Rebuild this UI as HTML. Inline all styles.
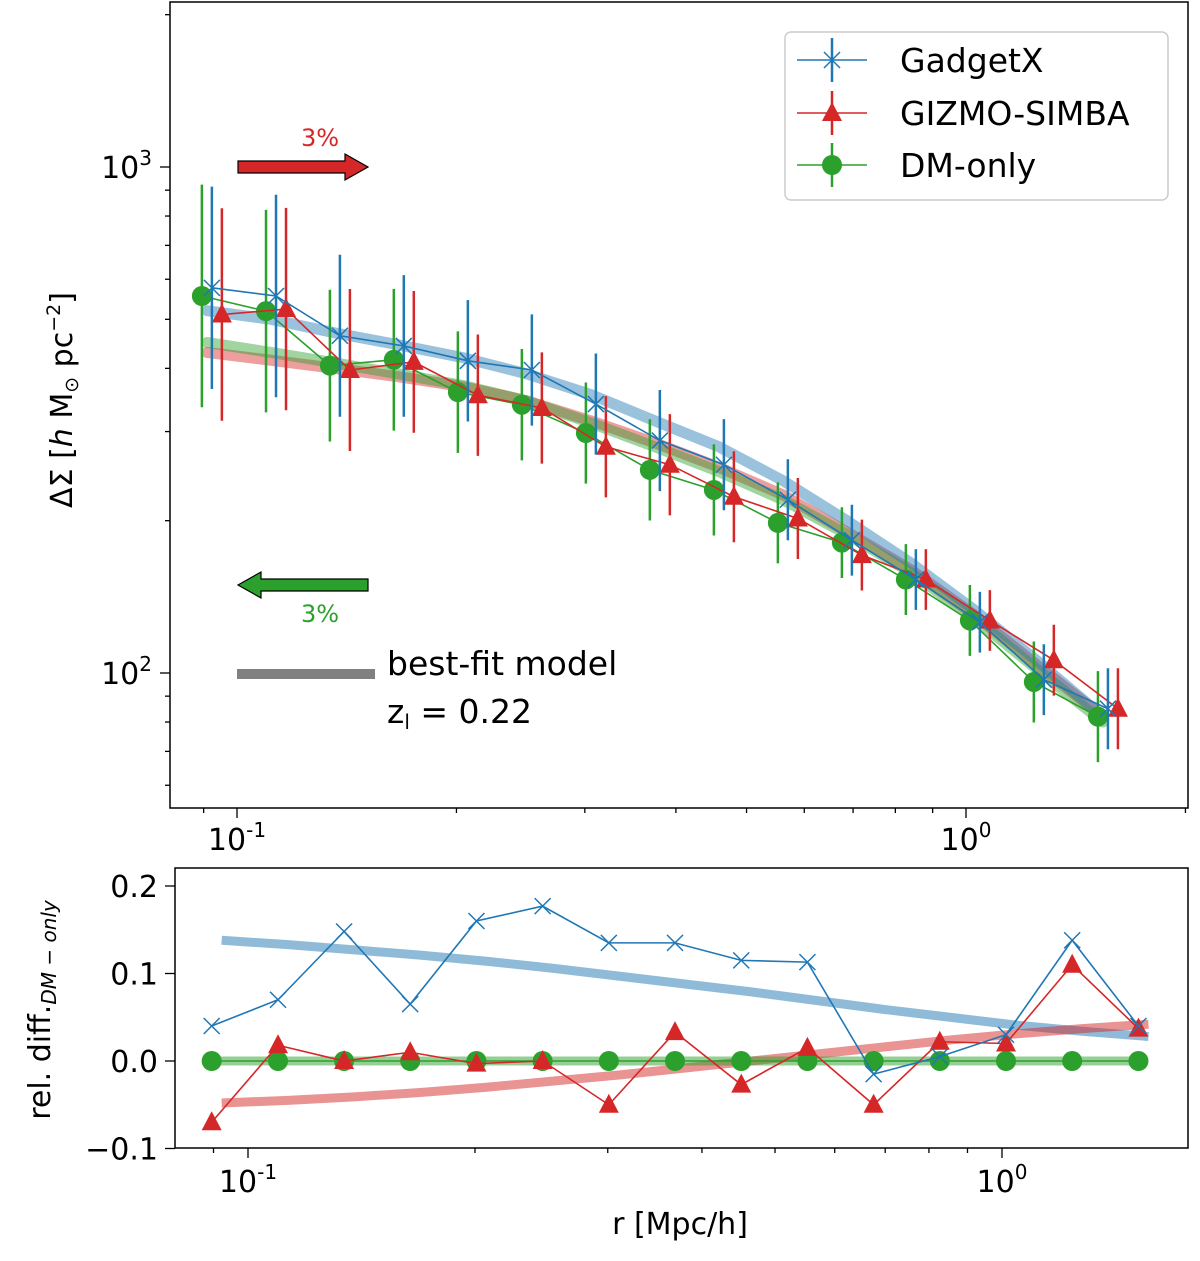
<!DOCTYPE html>
<html><head><meta charset="utf-8"><style>
body{margin:0;background:#fff}
svg text{font-family:"DejaVu Sans","Liberation Sans",sans-serif;fill:#000}
</style></head><body>
<svg id="c" width="1200" height="1256" xmlns="http://www.w3.org/2000/svg"></svg>
<script>
const rvals=[0.0895,0.1096,0.1341,0.1641,0.2009,0.2459,0.3010,0.3684,0.4510,0.5520,0.6757,0.8270,1.0123,1.239,1.517];
const gVals=[556,519,405,416,359,339,298,252,230,198,181,153,127,96,82];
const rVals=[511,524,397,412,354,334,280,258,223,202,171,153,127,106,85];
const bVals=[577,556,464,443,414,397,340,288,258,220,183,153,126,97,85];
const gErr=[0.22,0.2,0.15,0.14,0.12,0.11,0.1,0.1,0.09,0.08,0.07,0.07,0.07,0.08,0.09];
const rErr=[0.21,0.2,0.16,0.14,0.12,0.11,0.1,0.1,0.09,0.08,0.07,0.06,0.06,0.07,0.08];
const bErr=[0.2,0.2,0.16,0.14,0.12,0.11,0.1,0.1,0.09,0.08,0.07,0.06,0.06,0.07,0.08];
const bModel=[520,500,470,445,420,390,355,315,280,240,200,165,133,105,82];
const rModel=[430,415,400,385,368,345,315,285,255,225,190,160,130,103,82];
const gModel=[450,430,410,390,370,345,312,280,250,220,188,158,128,101,80];
const bDiff=[0.04,0.07,0.148,0.065,0.16,0.177,0.135,0.135,0.115,0.113,-0.015,0.005,0.03,0.138,0.04];
const rDiff=[-0.07,0.018,0,0.01,-0.003,0,-0.05,0.033,-0.027,0.015,-0.05,0.022,0.02,0.11,0.037];
const gDiff=[0,0,0,0,0,0,0,0,0,0,0,0,0,0,0];
const bDiffModel=[0.138,0.133,0.127,0.121,0.114,0.106,0.097,0.088,0.079,0.069,0.059,0.050,0.041,0.034,0.028];
const rDiffModel=[-0.048,-0.045,-0.041,-0.036,-0.030,-0.023,-0.016,-0.008,0,0.008,0.016,0.024,0.031,0.037,0.042];
const xTicks=[0.1,1];
const yTicks=[100,1000];
const dTicks=[0.2,0.1,0.0,-0.1];

const S=document.getElementById('c'),NS='http://www.w3.org/2000/svg';
function el(t,a,p){const e=document.createElementNS(NS,t);for(const k in a)e.setAttribute(k,a[k]);(p||S).appendChild(e);return e;}
const BLUE='#1f77b4',RED='#d62728',GREEN='#2ca02c';
const xT=r=>237+729*Math.log10(r/0.1);
const yT=v=>167-506*Math.log10(v/1000);
const xB=r=>248+754*Math.log10(r/0.1);
const yB=v=>1061-875*v;
const offs={b:10,r:20,g:0};
let f=el('rect',{x:170,y:2,width:1018,height:806,fill:'none',stroke:'#000','stroke-width':1.5});

f=el('rect',{x:175,y:868,width:1013,height:280,fill:'none',stroke:'#000','stroke-width':1.5});

function txt(x,y,s,o){const t=el('text',Object.assign({x:x,y:y,'font-size':30},o||{}));t.innerHTML=s;return t;}
for(let d=-2;d<=0;d++)for(let m=1;m<10;m++){const r=m*Math.pow(10,d);const X=xT(r),X2=xB(r);
 if(X>170&&X<1188){el('line',{x1:X,x2:X,y1:808,y2:808+(m==1?10:5),stroke:'#000','stroke-width':1.3});}
 if(X2>175&&X2<1188){el('line',{x1:X2,x2:X2,y1:1148,y2:1148+(m==1?10:5),stroke:'#000','stroke-width':1.3});}}
xTicks.forEach(r=>{const e=Math.round(Math.log10(r));
 let t=txt(xT(r),850,'10<tspan dy="-13" font-size="20">'+e+'</tspan>',{'text-anchor':'middle'});
 t=txt(xB(r),1192,'10<tspan dy="-13" font-size="20">'+e+'</tspan>',{'text-anchor':'middle'});});
for(let d=1;d<=3;d++)for(let m=1;m<10;m++){const v=m*Math.pow(10,d),Y=yT(v);if(Y>2&&Y<808)el('line',{x1:170,x2:170-(m==1?10:5),y1:Y,y2:Y,stroke:'#000','stroke-width':1.3});}
yTicks.forEach(v=>{let t=txt(152,yT(v)+11,'10<tspan dy="-13" font-size="20">'+Math.round(Math.log10(v))+'</tspan>',{'text-anchor':'end'});});
dTicks.forEach(v=>{el('line',{x1:175,x2:165,y1:yB(v),y2:yB(v),stroke:'#000','stroke-width':1.3});
 let t=txt(158,yB(v)+11,(v<0?'−':'')+Math.abs(v).toFixed(1),{'text-anchor':'end'});});
const defs=el('defs',{});const cp=el('clipPath',{id:'cb'},defs);el('rect',{x:175,y:868,width:1013,height:280},cp);
function poly(pts,attrs,name){const p=el('polyline',Object.assign({points:pts.map(q=>q.join(',')).join(' '),fill:'none'},attrs));return p;}
[[rModel,RED,'red-model'],[gModel,GREEN,'green-model'],[bModel,BLUE,'blue-model']].forEach(([m,c,n])=>poly(rvals.map((r,i)=>[xT(r)+5,yT(m[i])]),{stroke:c,'stroke-width':11,'stroke-opacity':0.45,'stroke-linecap':'round'},n));
function marker(type,x,y,c,g){if(type=='x'){el('path',{d:`M${x-8},${y-8}L${x+8},${y+8}M${x-8},${y+8}L${x+8},${y-8}`,stroke:c,'stroke-width':1.5},g);}
 else if(type=='t'){el('polygon',{points:`${x},${y-11} ${x+10},${y+8} ${x-10},${y+8}`,fill:c},g);}
 else el('circle',{cx:x,cy:y,r:10,fill:c},g);}
[[gVals,gErr,GREEN,'o','g','dm-only-series'],[rVals,rErr,RED,'t','r','gizmo-simba-series'],[bVals,bErr,BLUE,'x','b','gadgetx-series']].forEach(([v,e,c,mk,k,n])=>{
 const g=el('g',{});
 const pts=rvals.map((r,i)=>[xT(r)+offs[k],yT(v[i])]);
 pts.forEach((p,i)=>el('line',{x1:p[0],x2:p[0],y1:yT(v[i]*Math.pow(10,e[i])),y2:yT(v[i]/Math.pow(10,e[i])),stroke:c,'stroke-width':2.5},g));
 el('polyline',{points:pts.map(q=>q.join(',')).join(' '),fill:'none',stroke:c,'stroke-width':1.6},g);
 pts.forEach(p=>marker(mk,p[0],p[1],c,g));});
const gb=el('g',{'clip-path':'url(#cb)'});
[[bDiffModel,BLUE,'blue-diff-model'],[rDiffModel,RED,'red-diff-model'],[gDiff,GREEN,'green-diff-model']].forEach(([m,c,n])=>{const p=poly(rvals.map((r,i)=>[xB(r)+(c==GREEN?0:10),yB(m[i])]),{stroke:c,'stroke-width':9,'stroke-opacity':0.5},n);gb.appendChild(p);});
[[gDiff,GREEN,'o','dm-only-diff'],[rDiff,RED,'t','gizmo-simba-diff'],[bDiff,BLUE,'x','gadgetx-diff']].forEach(([v,c,mk,n])=>{
 const g=el('g',{},gb);
 const pts=rvals.map((r,i)=>[xB(r),yB(v[i])]);
 el('polyline',{points:pts.map(q=>q.join(',')).join(' '),fill:'none',stroke:c,'stroke-width':1.6},g);
 pts.forEach(p=>marker(mk,p[0],p[1],c,g));});
let t=txt(0,0,'ΔΣ [<tspan font-style="italic">h</tspan> M<tspan font-size="19" dy="6">⊙</tspan><tspan dy="-6"> pc</tspan><tspan dy="-12" font-size="19">−2</tspan><tspan dy="12">]</tspan>',{transform:'translate(72,400) rotate(-90)','text-anchor':'middle'});

t=txt(0,0,'rel. diff.<tspan font-size="20" font-style="italic" dy="6">DM − only</tspan>',{transform:'translate(50,1010) rotate(-90)','text-anchor':'middle'});

t=txt(680,1234,'r [Mpc/h]',{'text-anchor':'middle'});
let a=el('polygon',{points:'238,161 345,161 345,154 368,167 345,180 345,173 238,173',fill:RED,stroke:'#000','stroke-width':1.2});
t=txt(320,146,'3%',{'text-anchor':'middle','font-size':24});t.style.fill=RED;
a=el('polygon',{points:'368,579 261,579 261,572 238,585 261,598 261,591 368,591',fill:GREEN,stroke:'#000','stroke-width':1.2});
t=txt(320,622,'3%',{'text-anchor':'middle','font-size':24});t.style.fill=GREEN;
a=el('line',{x1:237,x2:375,y1:674,y2:674,stroke:'#808080','stroke-width':10});
t=txt(387,675,'best-fit model',{'font-size':33});
t=txt(387,723,'z<tspan font-size="20" dy="6">l</tspan><tspan dy="-6"> = 0.22</tspan>',{'font-size':33});
const lg=el('g',{});
el('rect',{x:785,y:32,width:383,height:168,rx:6,fill:'#fff',stroke:'#ccc','stroke-width':1.5},lg);
[['GadgetX',BLUE,'x',60],['GIZMO-SIMBA',RED,'t',113],['DM-only',GREEN,'o',165]].forEach(([n,c,mk,y])=>{
 const g=el('g',{},lg);
 el('line',{x1:797,x2:867,y1:y,y2:y,stroke:c,'stroke-width':1.6},g);
 el('line',{x1:832,x2:832,y1:y-22,y2:y+22,stroke:c,'stroke-width':2.5},g);
 marker(mk,832,y,c,g);
 const tt=el('text',{x:900,y:y+12,'font-size':33},g);tt.textContent=n;});
</script>
</body></html>
